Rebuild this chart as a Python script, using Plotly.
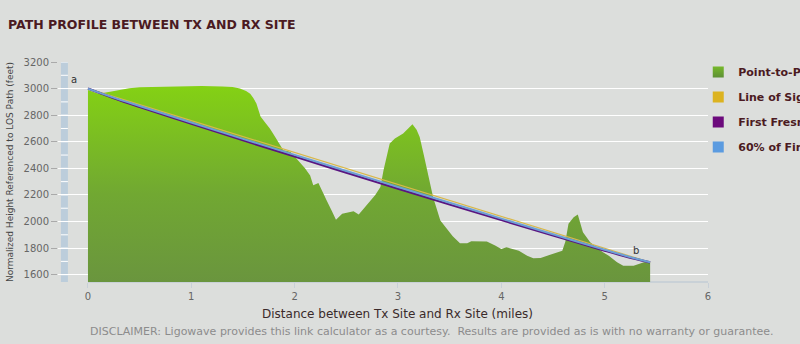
import plotly.graph_objects as go

# ---- data ----
terrain_x = [0.0, 0.1, 0.2, 0.3, 0.4, 0.5, 0.7, 0.9, 1.1, 1.3, 1.4, 1.47, 1.53, 1.57, 1.6,
             1.63, 1.67, 1.72, 1.76, 1.8, 1.83, 1.87, 1.89, 1.93, 1.96, 2.0, 2.05, 2.1,
             2.15, 2.18, 2.23, 2.27, 2.31, 2.36, 2.40, 2.46, 2.52, 2.57, 2.62, 2.68, 2.73,
             2.78, 2.83, 2.86, 2.92, 2.97, 3.05, 3.1, 3.14, 3.18, 3.21, 3.25, 3.28, 3.34,
             3.41, 3.47, 3.53, 3.6, 3.67, 3.71, 3.8, 3.86, 3.94, 4.0, 4.05, 4.1, 4.17,
             4.25, 4.31, 4.38, 4.5, 4.59, 4.62, 4.65, 4.7, 4.74, 4.79, 4.86, 4.92, 4.98,
             5.04, 5.12, 5.18, 5.28, 5.38, 5.44]
terrain_y = [2990, 2962, 2975, 2990, 3003, 3010, 3014, 3016, 3019, 3015, 3012, 3000, 2982,
             2962, 2930, 2888, 2790, 2740, 2700, 2650, 2611, 2560, 2536, 2530, 2523, 2490,
             2448, 2400, 2347, 2272, 2289, 2220, 2159, 2080, 2013, 2058, 2070, 2078, 2053,
             2110, 2159, 2200, 2259, 2385, 2586, 2624, 2662, 2700, 2732, 2690, 2636, 2500,
             2385, 2183, 2008, 1945, 1890, 1836, 1836, 1851, 1852, 1849, 1819, 1794, 1806,
             1795, 1781, 1743, 1723, 1726, 1756, 1781, 1850, 1983, 2033, 2053, 1919, 1844,
             1806, 1770, 1743, 1693, 1668, 1668, 1693, 1693]

path_x = [0, 0.25, 0.5, 1, 1.5, 2, 2.5, 3, 3.5, 4, 4.5, 5, 5.2, 5.44]
los_y = [3000, 2940, 2880, 2760, 2640, 2520, 2399, 2279, 2159, 2039, 1919, 1799, 1751, 1693]
fresnel_y = [3000, 2927, 2861, 2735, 2611, 2489, 2368, 2247, 2128, 2011, 1895, 1781, 1738, 1693]
fresnel60_y = [3000, 2932, 2869, 2745, 2622, 2501, 2380, 2260, 2141, 2022, 1904, 1788, 1743, 1693]

y_ticks = [1600, 1800, 2000, 2200, 2400, 2600, 2800, 3000, 3200]
y_minor = [1600, 1700, 1800, 1900, 2000, 2100, 2200, 2300, 2400, 2500, 2600, 2700, 2800,
           2900, 3000, 3100, 3200]
x_ticks = [0, 1, 2, 3, 4, 5, 6]

series_names = ["Point-to-Point Profile", "Line of Sight", "First Fresnel Zone",
                "60% of First Fresnel Zone"]
series_colors = ["#76b82a", "#dcb320", "#6c0a7c", "#5b9be0"]

# ---- style ----
BG = "#dcdedc"
MAROON = "#4b1a22"
FONT = "DejaVu Sans"

fig = go.Figure()

fig.add_trace(go.Scatter(
    x=terrain_x, y=terrain_y, mode="lines", fill="tozeroy",
    line=dict(width=0, color="#7cc41e"),
    fillgradient=dict(type="vertical", start=1545, stop=3020,
                      colorscale=[[0, "#6a953e"], [0.45, "#71a832"], [1, "#84d114"]]),
    showlegend=False, hoverinfo="skip"))

fig.add_trace(go.Scatter(x=path_x, y=los_y, mode="lines",
                         line=dict(color="#d8b84a", width=1.2),
                         showlegend=False, hoverinfo="skip"))
fig.add_trace(go.Scatter(x=path_x, y=fresnel_y, mode="lines",
                         line=dict(color="#5a1580", width=2.2, shape="spline"),
                         showlegend=False, hoverinfo="skip"))
fig.add_trace(go.Scatter(x=path_x, y=fresnel60_y, mode="lines",
                         line=dict(color="#6d9fd4", width=2, shape="spline"),
                         showlegend=False, hoverinfo="skip"))

# legend entries
for i, (name, col) in enumerate(zip(series_names, series_colors)):
    marker = dict(symbol="square", size=11, color=col, line=dict(width=0))
    if i == 0:
        marker["gradient"] = dict(type="vertical", color="#5d8f35")
    fig.add_trace(go.Scatter(x=[None], y=[None], mode="markers", name=name,
                             legendgroup=f"g{i}", marker=marker))

shapes = [
    dict(type="rect", xref="x", yref="y", x0=-0.262, x1=-0.194, y0=1545, y1=3200,
         fillcolor="#bccddb", line=dict(width=0), layer="below"),
    dict(type="line", xref="x", yref="paper", x0=0, x1=6, y0=0, y1=0,
         line=dict(color="#c3ccd6", width=1.5), layer="below"),
]
for v in y_minor:
    shapes.append(dict(type="line", xref="x", yref="y", x0=-0.262, x1=-0.194, y0=v, y1=v,
                       line=dict(color="white", width=1), layer="below"))

fig.update_layout(
    width=800, height=344,
    paper_bgcolor=BG, plot_bgcolor=BG,
    margin=dict(l=58, r=92, t=62, b=62, autoexpand=False),
    font=dict(family=FONT, color="#666666", size=10),
    title=dict(text="<b>PATH PROFILE BETWEEN TX AND RX SITE</b>",
               xref="container", yref="container", x=0.01, y=1 - 25 / 344,
               xanchor="left", yanchor="middle",
               font=dict(family=FONT, size=12.5, color=MAROON)),
    xaxis=dict(range=[-0.29, 6], tickvals=x_ticks, ticks="outside", ticklen=5,
               tickcolor="#c8d0d8", showgrid=False, zeroline=False, showline=False,
               tickfont=dict(size=10, color="#666666")),
    yaxis=dict(range=[1545, 3200], tickvals=y_ticks, ticks="outside", ticklen=6,
               tickcolor="#aaaaaa", showgrid=True, gridcolor="white", gridwidth=1,
               zeroline=False, showline=False,
               tickfont=dict(size=10, color="#666666"),
               title=dict(text="Normalized Height Referenced to LOS Path (feet)",
                          font=dict(size=9, color="#444444"), standoff=8)),
    legend=dict(x=0.985, y=1.02, xanchor="left", yanchor="top", tracegroupgap=6,
                bgcolor="rgba(0,0,0,0)", itemclick=False,
                font=dict(family=FONT, size=11, color=MAROON, weight="bold")),
    shapes=shapes,
    annotations=[
        dict(text="a", x=-0.14, y=3072, xref="x", yref="y", showarrow=False,
             font=dict(size=10, color="#333333")),
        dict(text="b", x=5.30, y=1780, xref="x", yref="y", showarrow=False,
             font=dict(size=10, color="#333333")),
        dict(text="Distance between Tx Site and Rx Site (miles)",
             x=3, y=-32 / 220, xref="x", yref="paper", xanchor="center",
             yanchor="middle", showarrow=False,
             font=dict(size=12, color="#3a2a2a")),
        dict(text="DISCLAIMER: Ligowave provides this link calculator as a courtesy.&nbsp; "
                  "Results are provided as is with no warranty or guarantee.",
             x=30 / 650, y=-49 / 220, xref="paper", yref="paper", xanchor="left",
             yanchor="middle", showarrow=False,
             font=dict(size=11, color="#8c8c8c")),
    ],
)

fig.write_html("out.html")
